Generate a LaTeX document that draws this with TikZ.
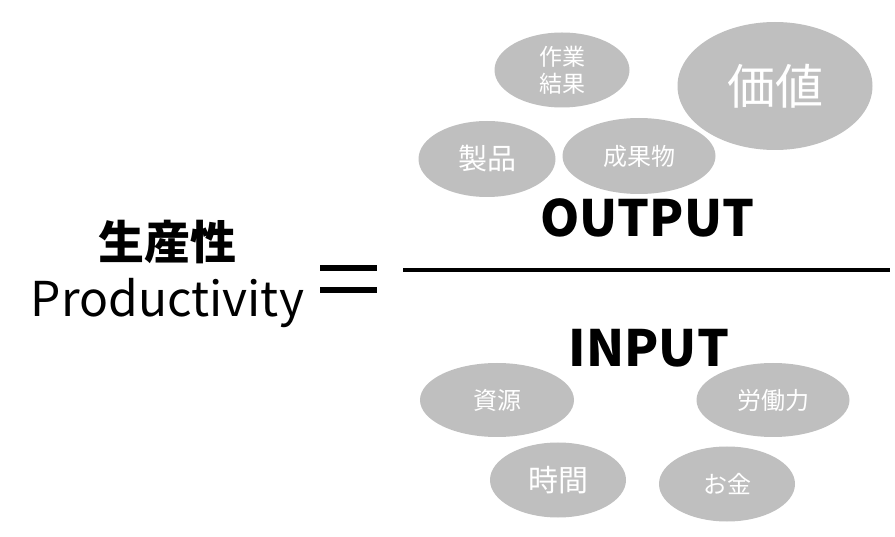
\documentclass[tikz,border=0pt]{standalone}
\usepackage{fontspec}
\setmainfont{Noto Sans CJK JP}
\newfontfamily\jpfont{Noto Sans CJK JP}
\usepackage{xcolor}
\usepackage{tikz}
\usetikzlibrary{
  shapes.geometric,
  positioning
}
\definecolor{bubblegray}{HTML}{BFBFBF}
\tikzstyle{bubble} = [
  ellipse, fill=bubblegray, draw=none, inner sep=0pt,
  text=white, align=center, font=\jpfont
]
\tikzstyle{termtext} = [
  inner sep=0pt, anchor=base, font=\bfseries\fontsize{50}{50}\selectfont
]
\tikzstyle{barline} = [line width=4pt]

\begin{document}
\begin{tikzpicture}[x=1pt, y=-1pt]
\useasboundingbox (0,0) rectangle (895,537);

% --- Left side ---
\node[inner sep=0pt, anchor=base, font=\bfseries\fontsize{46}{46}\selectfont] (seisan) at (167,260) {生産性};
\node[inner sep=0pt, anchor=base, font=\fontsize{48}{48}\selectfont] (prod) at (167.5,317) {Productivity};

% --- Equals sign ---
\coordinate (eqa) at (320,268.5);
\coordinate (eqb) at (377,268.5);
\coordinate (eqc) at (320,290);
\coordinate (eqd) at (377,290);
\draw[line width=6pt] (eqa) -- (eqb);
\draw[line width=6pt] (eqc) -- (eqd);

% --- Fraction bar ---
\coordinate (barl) at (403,270);
\coordinate (barr) at (890,270);
\draw[barline] (barl) -- (barr);

\node[termtext] (output) at (647.5,237) {OUTPUT};
\node[termtext] (input) at (649,367) {INPUT};

% --- Output bubbles ---
\node[bubble, minimum width=135pt, minimum height=75pt, font=\jpfont\fontsize{23}{27}\selectfont] (sagyo) at (562,70) {作業\\結果};
\node[bubble, minimum width=195pt, minimum height=128pt, font=\jpfont\fontsize{48}{48}\selectfont] (kachi) at (775,86) {価値};
\node[bubble, minimum width=137pt, minimum height=76pt, font=\jpfont\fontsize{29}{29}\selectfont] (seihin) at (487,159) {製品};
\node[bubble, minimum width=153pt, minimum height=76pt, font=\jpfont\fontsize{24}{24}\selectfont] (seika) at (639,156) {成果物};

% --- Input bubbles ---
\node[bubble, minimum width=154pt, minimum height=74pt, font=\jpfont\fontsize{24}{24}\selectfont] (shigen) at (497,400) {資源};
\node[bubble, minimum width=153pt, minimum height=74pt, font=\jpfont\fontsize{24}{24}\selectfont] (rodo) at (773,400) {労働力};
\node[bubble, minimum width=136pt, minimum height=75pt, font=\jpfont\fontsize{30}{30}\selectfont] (jikan) at (558,480) {時間};
\node[bubble, minimum width=136pt, minimum height=75pt, font=\jpfont\fontsize{24}{24}\selectfont] (okane) at (727,484) {お金};

\end{tikzpicture}
\end{document}
